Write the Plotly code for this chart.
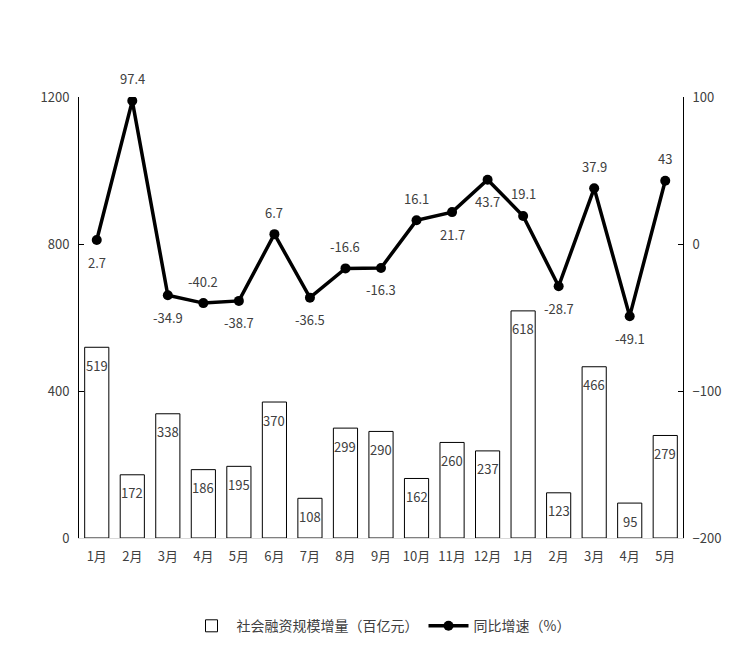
import plotly.graph_objects as go

categories = ["1月", "2月", "3月", "4月", "5月", "6月", "7月", "8月", "9月",
              "10月", "11月", "12月", "1月", "2月", "3月", "4月", "5月"]
bar_values = [519, 172, 338, 186, 195, 370, 108, 299, 290, 162, 260, 237, 618, 123, 466, 95, 279]
growth = [2.7, 97.4, -34.9, -40.2, -38.7, 6.7, -36.5, -16.6, -16.3, 16.1, 21.7, 43.7, 19.1, -28.7, 37.9, -49.1, 43]
growth_labels = ["2.7", "97.4", "-34.9", "-40.2", "-38.7", "6.7", "-36.5", "-16.6", "-16.3",
                 "16.1", "21.7", "43.7", "19.1", "-28.7", "37.9", "-49.1", "43"]
label_side = ["below", "above", "below", "above", "below", "above", "below", "above", "below",
              "above", "below", "below", "above", "below", "above", "below", "above"]

FONT = "Noto Sans CJK SC, Microsoft YaHei, sans-serif"
TXT = "#404040"

x_idx = list(range(len(categories)))

fig = go.Figure()
fig.add_trace(go.Bar(
    x=x_idx, y=bar_values, name="社会融资规模增量（百亿元）",
    marker=dict(color="white", line=dict(color="black", width=1)),
    width=0.68, yaxis="y",
))
fig.add_trace(go.Scatter(
    x=x_idx, y=growth, name="同比增速（%）", mode="lines+markers",
    line=dict(color="black", width=3.5),
    marker=dict(color="black", size=10),
    yaxis="y2",
))

annotations = []
for i, v in enumerate(bar_values):
    annotations.append(dict(x=i, y=v, xref="x", yref="y", text=str(v), showarrow=False,
                            yanchor="middle", yshift=-18,
                            font=dict(family=FONT, size=13, color=TXT)))
for i, (v, t, s) in enumerate(zip(growth, growth_labels, label_side)):
    annotations.append(dict(x=i, y=v, xref="x", yref="y2", text=t, showarrow=False,
                            yanchor="middle", yshift=(22 if s == "above" else -22),
                            font=dict(family=FONT, size=13, color=TXT)))

fig.update_layout(
    width=745, height=665,
    margin=dict(l=71, r=70, t=89, b=135),
    paper_bgcolor="white", plot_bgcolor="white",
    font=dict(family=FONT, size=13, color=TXT),
    showlegend=True,
    legend=dict(orientation="h", x=0.5, xanchor="center", y=-0.2, yanchor="middle",
                font=dict(family=FONT, size=14, color=TXT), itemwidth=40),
    xaxis=dict(tickmode="array", tickvals=x_idx, ticktext=categories,
               range=[-0.5, len(categories) - 0.5],
               showline=True, linecolor="#d9d9d9", linewidth=1,
               showgrid=False, ticks="", zeroline=False, ticklabelstandoff=6,
               tickfont=dict(family=FONT, size=13, color=TXT)),
    yaxis=dict(range=[0, 1200], tickvals=[0, 400, 800, 1200],
               showline=True, linecolor="black", linewidth=1,
               ticks="inside", ticklen=5, tickcolor="black",
               showgrid=False, zeroline=False, ticklabelstandoff=6,
               tickfont=dict(family=FONT, size=13, color=TXT)),
    yaxis2=dict(range=[-200, 100], tickvals=[-200, -100, 0, 100],
                overlaying="y", side="right",
                showline=True, linecolor="black", linewidth=1,
                ticks="inside", ticklen=5, tickcolor="black",
                showgrid=False, zeroline=False, ticklabelstandoff=6,
                tickfont=dict(family=FONT, size=13, color=TXT)),
    annotations=annotations,
    bargap=0.32,
)

fig.write_html("out.html")
